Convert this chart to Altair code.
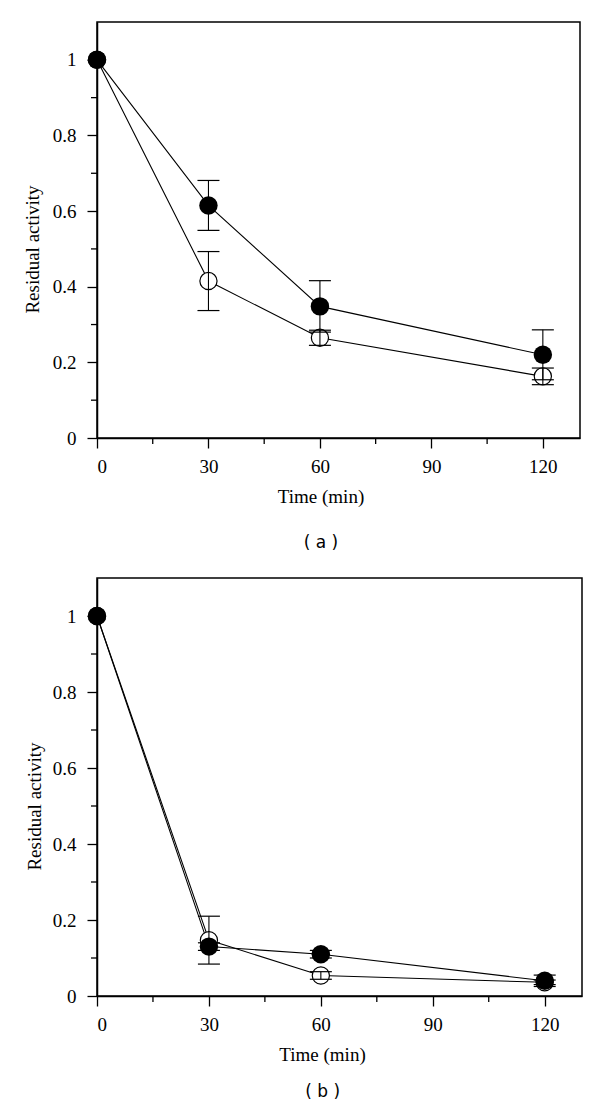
import altair as alt
import pandas as pd

# ---- data ----
time_min = [0, 30, 60, 120]

a_filled = [1.0, 0.615, 0.348, 0.220]
a_filled_err = [0.0, 0.066, 0.068, 0.066]
a_open = [1.0, 0.415, 0.265, 0.163]
a_open_err = [0.0, 0.078, 0.020, 0.022]

b_filled = [1.0, 0.130, 0.110, 0.040]
b_filled_err = [0.0, 0.010, 0.010, 0.015]
b_open = [1.0, 0.147, 0.054, 0.036]
b_open_err = [0.0, 0.063, 0.010, 0.006]

x_major = [0, 30, 60, 90, 120]
x_minor = [15, 45, 75, 105]
y_major = [0, 0.2, 0.4, 0.6, 0.8, 1.0]
y_minor = [0.1, 0.3, 0.5, 0.7, 0.9]

SERIF = "Liberation Serif"
SANS = "DejaVu Sans"


def panel(filled, ferr, opened, oerr, W, H, ytitle_x, ytitle_y, xtitle_x, caption, cap_x, cap_y):
    rows = []
    for t, v, e in zip(time_min, opened, oerr):
        rows.append({"t": t, "v": v, "lo": v - e, "hi": v + e, "e": e, "s": "open"})
    for t, v, e in zip(time_min, filled, ferr):
        rows.append({"t": t, "v": v, "lo": v - e, "hi": v + e, "e": e, "s": "filled"})
    df = pd.DataFrame(rows)
    df_open = df[df.s == "open"]
    df_fill = df[df.s == "filled"]
    df_err = df[df.e > 0]

    xscale = alt.Scale(domain=[0, 130], nice=False, zero=False)
    yscale = alt.Scale(domain=[0, 1.1], nice=False)
    xaxis = alt.Axis(values=x_major, title="Time (min)", tickSize=10, labelPadding=9,
                     titleX=xtitle_x, titleY=64, titleAlign="center",
                     titleBaseline="alphabetic", grid=False)
    yaxis = alt.Axis(values=y_major, format="~g", title="Residual activity", tickSize=10,
                     labelPadding=11, titleX=ytitle_x, titleY=ytitle_y, titleAngle=270,
                     titleAlign="center", titleBaseline="alphabetic", grid=False)

    X = alt.X("t:Q", scale=xscale, axis=xaxis)
    Y = alt.Y("v:Q", scale=yscale, axis=yaxis)

    xminor = alt.Chart(pd.DataFrame({"m": x_minor})).mark_rule(color="black", strokeWidth=1.3).encode(
        x=alt.X("m:Q", scale=xscale, axis=xaxis), y=alt.value(H), y2=alt.value(H + 6))
    yminor = alt.Chart(pd.DataFrame({"m": y_minor})).mark_rule(color="black", strokeWidth=1.3).encode(
        y=alt.Y("m:Q", scale=yscale, axis=yaxis), x=alt.value(0), x2=alt.value(-6))

    line_open = alt.Chart(df_open).mark_line(color="black", strokeWidth=1.1).encode(x=X, y=Y)
    line_fill = alt.Chart(df_fill).mark_line(color="black", strokeWidth=1.1).encode(x=X, y=Y)
    pts_open = alt.Chart(df_open).mark_point(shape="circle", filled=False, fill="white", fillOpacity=1,
                                             stroke="black", strokeWidth=1.2, size=295, opacity=1).encode(x=X, y=Y)
    pts_fill = alt.Chart(df_fill).mark_point(shape="circle", filled=True, color="black",
                                             size=340, opacity=1).encode(x=X, y=Y)
    err_rule = alt.Chart(df_err).mark_rule(color="black", strokeWidth=1.1).encode(
        x=X, y=alt.Y("lo:Q", scale=yscale, axis=yaxis), y2="hi:Q")
    cap_lo = alt.Chart(df_err).mark_tick(orient="horizontal", color="black", size=22, thickness=1.2,
                                         opacity=1).encode(x=X, y=alt.Y("lo:Q", scale=yscale, axis=yaxis))
    cap_hi = alt.Chart(df_err).mark_tick(orient="horizontal", color="black", size=22, thickness=1.2,
                                         opacity=1).encode(x=X, y=alt.Y("hi:Q", scale=yscale, axis=yaxis))
    cap_text = alt.Chart(pd.DataFrame({"c": [caption]})).mark_text(
        font=SANS, fontSize=17, color="black", baseline="middle", align="center").encode(
        x=alt.value(cap_x), y=alt.value(cap_y), text="c:N")

    return alt.layer(xminor, yminor, line_open, line_fill, pts_open, pts_fill,
                     err_rule, cap_lo, cap_hi, cap_text).properties(width=W, height=H)


pa = panel(a_filled, a_filled_err, a_open, a_open_err, 483, 416,
           -59, 227, 223.5, "( a )", 224, 521)
pb = panel(b_filled, b_filled_err, b_open, b_open_err, 485, 418,
           -57, 228, 225, "( b )", 225.7, 514)

chart = alt.vconcat(pa, pb, spacing=25).properties(
    padding={"left": 14, "top": 13, "right": 5, "bottom": 5}
).configure(background="white").configure_view(
    stroke="black", strokeWidth=1.5
).configure_axis(
    domainColor="black", domainWidth=1.5, tickColor="black", tickWidth=1.3,
    labelFont=SERIF, labelFontSize=19, labelColor="black",
    titleFont=SERIF, titleFontSize=19, titleColor="black", titleFontWeight="normal"
)

chart.save("out.html", embed_options={"renderer": "svg", "actions": False})
